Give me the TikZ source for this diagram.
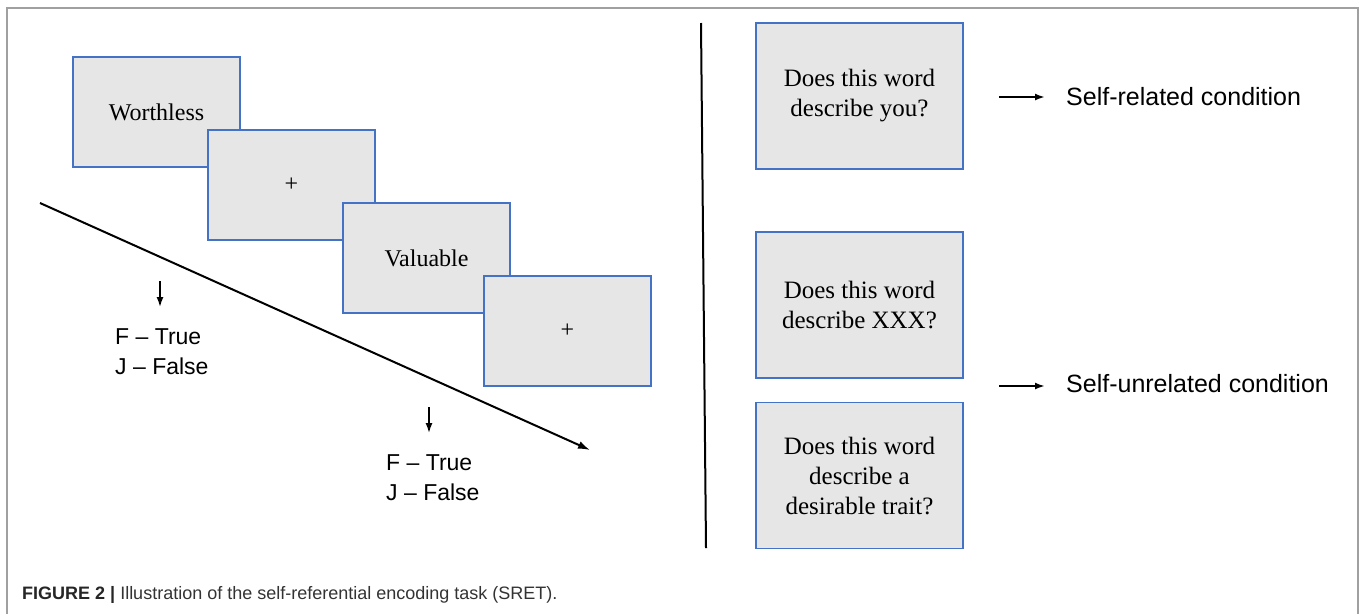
\documentclass[tikz,border=0pt]{standalone}
\usepackage{fontspec}
\setmainfont{Liberation Serif}
\setsansfont{Liberation Sans}
\usetikzlibrary{arrows.meta}

\definecolor{boxblue}{HTML}{4472C4}
\definecolor{boxgray}{HTML}{E6E6E6}
\definecolor{framegray}{HTML}{A0A0A0}
\definecolor{capgray}{HTML}{333333}

\tikzset{
  screen/.style={draw=boxblue, fill=boxgray, line width=1.5pt, minimum width=167pt,
    minimum height=110pt, inner sep=0pt, font=\fontsize{24}{29}\selectfont},
  question/.style={draw=boxblue, fill=boxgray, line width=1.5pt, minimum width=207pt,
    minimum height=146pt, inner sep=0pt, align=center, font=\fontsize{25}{30}\selectfont},
  keys/.style={anchor=west, inner sep=0pt, align=left, font=\sffamily\fontsize{23}{30}\selectfont},
  cond/.style={anchor=west, inner sep=0pt, font=\sffamily\fontsize{25}{29}\selectfont},
  cue/.style={-{Latex[length=10pt,width=7pt]}, line width=1.5pt},
}

\begin{document}
\begin{tikzpicture}[x=1pt,y=-1pt]
    \useasboundingbox (0,0) rectangle (1360,614);
    \draw[framegray, line width=2pt] (7,614) -- (7,8) -- (1358,8) -- (1358,614);

    % trial sequence
    \node[screen] (worthless) at (156.5,112) {Worthless};
    \node[screen] (fix1) at (291.5,185) {+};
    \node[screen] (valuable) at (426.5,258) {Valuable};
    \node[screen] (fix2) at (567.5,331) {+};

    \draw[cue, line width=2pt, -{Latex[length=12pt,width=8pt]}] (40,203) -- (590,450);

    \draw[cue] (160,281) -- (160,307);
    \node[keys] (keys1) at (115,352) {F -- True\\J -- False};
    \draw[cue] (429,407) -- (429,433);
    \node[keys] (keys2) at (386,478) {F -- True\\J -- False};

    \draw[line width=2pt] (701,23) -- (706,548);

    % conditions
    \node[question] (qyou) at (859.5,96) {Does this word\\describe you?};
    \node[question] (qxxx) at (859.5,305) {Does this word\\describe XXX?};
    \node[question] (qtrait) at (859.5,475.5) {Does this word\\describe a\\desirable trait?};

    \node[cond] (selfrel) at (1066,97) {Self-related condition};
    \node[cond] (selfunrel) at (1066,384) {Self-unrelated condition};
    \draw[cue, line width=2pt] (999,97) -- ([xshift=-21pt]selfrel.west);
    \draw[cue, line width=2pt] (999,386) -- ([xshift=-21pt,yshift=-2pt]selfunrel.west);

    \node[anchor=west, inner sep=0pt, text=capgray, font=\sffamily\fontsize{18}{21}\selectfont] (caption)
      at (22,595) {\textcolor{black!85}{\textbf{FIGURE 2 |}} Illustration of the self-referential encoding task (SRET).};
\end{tikzpicture}
\end{document}
